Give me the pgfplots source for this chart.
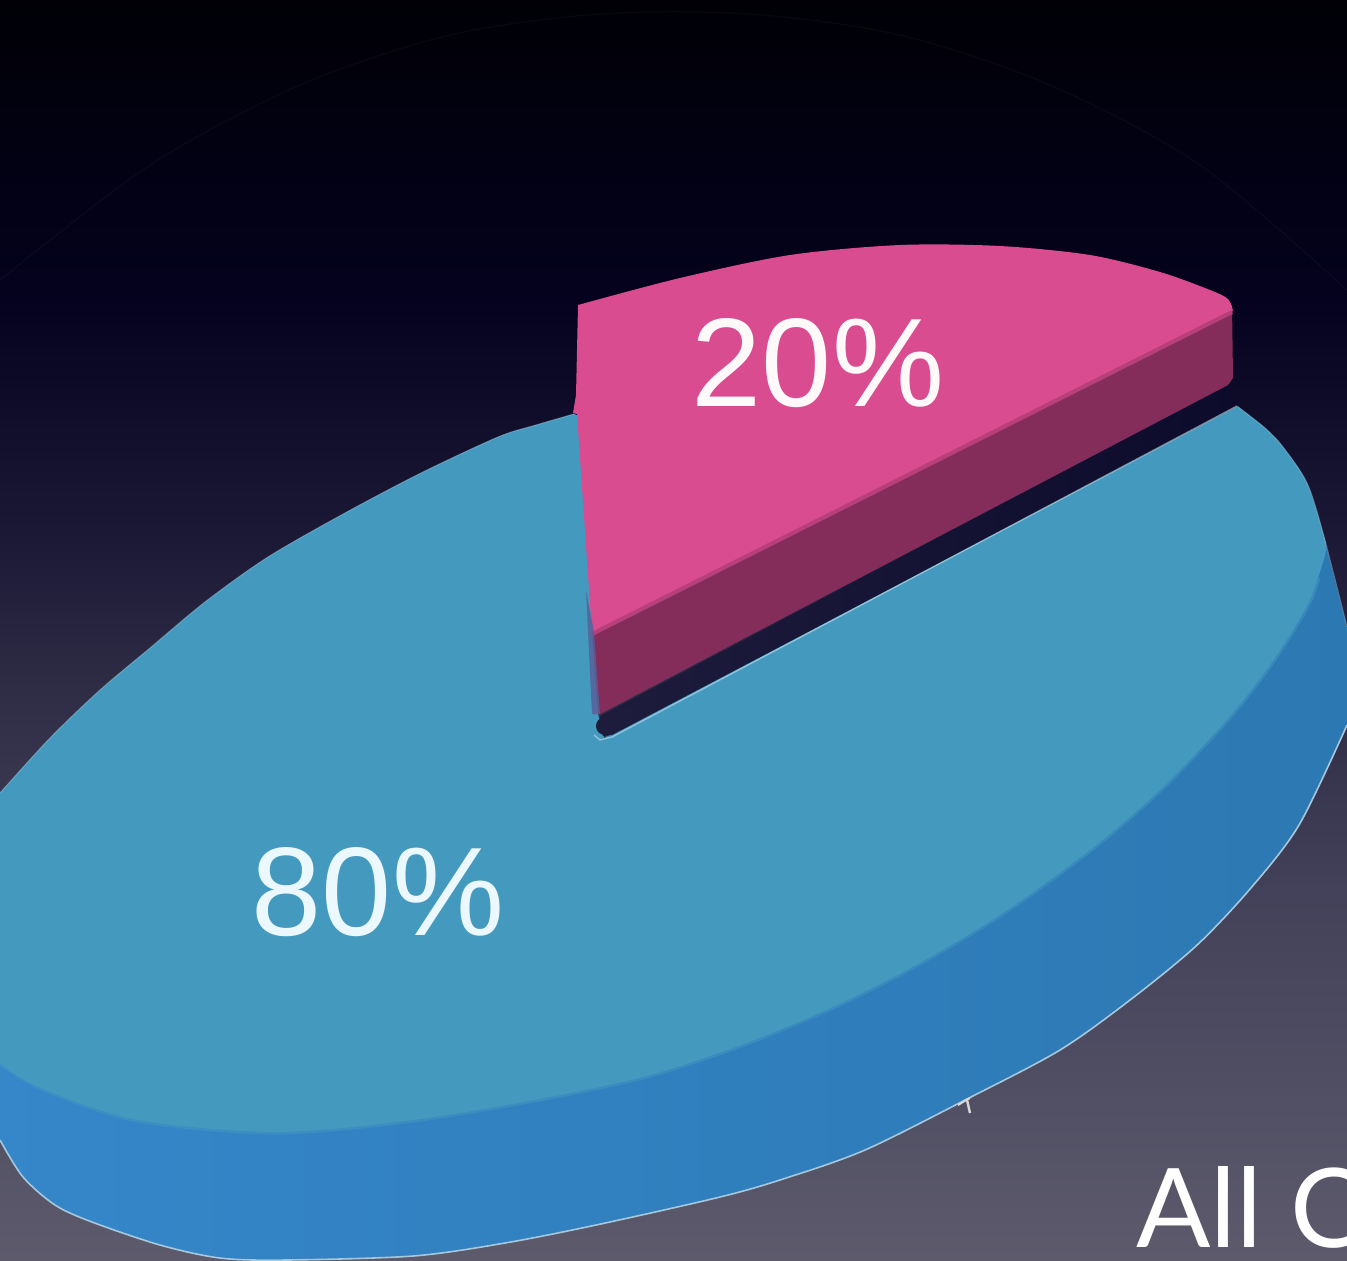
\documentclass[border=0pt]{standalone}
\usepackage{pgfplots}
\pgfplotsset{compat=1.18}
\usepackage{fontspec}
\setmainfont{Liberation Sans}
\newfontfamily\slidefont{Lato}
\definecolor{bgA}{HTML}{000006}
\definecolor{bgB}{HTML}{04021E}
\definecolor{bgC}{HTML}{1C1A37}
\definecolor{bgD}{HTML}{302E46}
\definecolor{bgE}{HTML}{44425A}
\definecolor{bgF}{HTML}{5C5A6B}
\definecolor{blueTop}{HTML}{4499BF}
\definecolor{blueSideL}{HTML}{3587CA}
\definecolor{blueSideR}{HTML}{2C78B2}
\definecolor{pinkTop}{HTML}{D94C8F}
\definecolor{pinkSide}{HTML}{842D5B}
\definecolor{gap}{HTML}{1E1C3C}
\definecolor{gapEnd}{HTML}{0D0B2C}
\definecolor{rim}{HTML}{A5C8DC}
\begin{document}
\begin{tikzpicture}[x=0.5pt,y=0.5pt]
\useasboundingbox (0,0) rectangle (1347,1260);
\clip (0,0) rectangle (1347,1260);
\begin{axis}[
  at={(0,0)}, anchor=south west,
  scale only axis, width=673.5pt, height=630pt,
  xmin=0, xmax=1347, ymin=0, ymax=1260, y dir=reverse,
  hide axis, clip=true]
% backdrop bands
\addplot[draw=none, top color=bgA, bottom color=bgB] coordinates {(0,0)(1347,0)(1347,300)(0,300)} -- cycle;
\addplot[draw=none, top color=bgB, bottom color=bgC] coordinates {(0,299)(1347,299)(1347,550)(0,550)} -- cycle;
\addplot[draw=none, top color=bgC, bottom color=bgD] coordinates {(0,549)(1347,549)(1347,700)(0,700)} -- cycle;
\addplot[draw=none, top color=bgD, bottom color=bgE] coordinates {(0,699)(1347,699)(1347,900)(0,900)} -- cycle;
\addplot[draw=none, top color=bgE, bottom color=bgF] coordinates {(0,899)(1347,899)(1347,1260)(0,1260)} -- cycle;
% faint arc behind the pie
\addplot[draw=white, draw opacity=0.03, line width=0.6pt, smooth] coordinates {(0,280)(150,165)(300,85)(450,35)(600,14)(750,14)(900,35)(1050,85)(1200,165)(1347,290)};
% outer wall of the large slice, closed underneath the top face
\addplot[draw=none, left color=blueSideL, right color=blueSideR, smooth] coordinates {
 (1323,533)(1347,627)(1365,680)(1347,725)(1299,825)(1250,889)(1196,946)(1130,1000)(1060,1050)(969,1098)(865,1150)(783,1179)(720,1197)(596,1225)(505,1243)(413,1256)(285,1260)(220,1258)(160,1245)(92,1222)(55,1205)(23,1177)(0,1140)(-20,1100)}
 -- (axis cs:-20,1000) -- cycle;
% light rim along the lower edge
\addplot[draw=rim, line width=0.8pt, smooth] coordinates {(0,1140)(23,1177)(55,1205)(92,1222)(160,1245)(220,1258)(285,1260)(413,1256)(505,1243)(596,1225)(720,1197)(783,1179)(865,1150)(969,1098)(1060,1050)(1130,1000)(1196,946)(1250,889)(1299,825)(1347,725)};
% top face of the large slice; its left bulge runs past the frame
\addplot[draw=none, fill=blueTop, smooth] coordinates {
 (1237,406)(1265,428)(1283,447)(1307,483)(1323,533)(1326,550)(1318,578)(1310,600)(1293,630)(1265,672)(1225,722)(1160,790)(1090,850)(1000,915)(907,970)(824,1011)(741,1045)(650,1075)(550,1097)(413,1120)(275,1132)(138,1120)(46,1090)(0,1063)(-50,1010)(-60,950)(-40,840)(0,793)(50,738)(100,690)(150,648)(205,602)(268,557)(345,513)(421,473)(498,437)(536,425)(574,414)}
 -- (axis cs:590,420) -- (axis cs:600,640) -- (axis cs:598,714) -- (axis cs:604,738) -- cycle;
% soft transition from face to wall
\addplot[draw=blueTop, draw opacity=0.5, line width=2.5pt, smooth] coordinates {(1318,578)(1310,600)(1293,630)(1265,672)(1225,722)(1160,790)(1090,850)(1000,915)(907,970)(824,1011)(741,1045)(650,1075)(550,1097)(413,1120)(275,1132)(138,1120)(46,1090)(0,1063)};
% faint highlight on the upper edges
\addplot[draw=rim, draw opacity=0.45, line width=0.5pt, smooth] coordinates {(0,793)(50,738)(100,690)(150,648)(205,602)(268,557)(345,513)(421,473)(498,437)(536,425)(574,414)};
\addplot[draw=rim, draw opacity=0.45, line width=0.5pt, smooth] coordinates {(1237,406)(1265,428)(1283,447)(1307,483)(1323,533)(1347,627)};
% dark slot between the slices
\addplot[draw=none, left color=gap, right color=gapEnd] coordinates {(600,716)(1228,385)(1238,406)(612,735)(603,736)} -- cycle;
\addplot[draw=gap, line width=9pt, line cap=round] coordinates {(605,726)(625,716)};
\addplot[draw=white!75!blueTop, draw opacity=0.55, line width=0.7pt] coordinates {(594,735)(600,740)(612,737)(1237,406)};
% small slice: cut face and top
\addplot[draw=none, fill=pinkSide] coordinates {(592,632)(1232,305)(1233,378)(1228,385)(600,714)(598,714)} -- cycle;
\addplot[draw=none, fill=pinkTop, smooth] coordinates {
 (578,305)(680,278)(790,255)(900,245)(1000,246)(1090,255)(1160,272)(1210,290)(1228,299)(1233,311)}
 -- (axis cs:592,633) -- (axis cs:577,414) -- (axis cs:573,413) -- (axis cs:576,395) -- cycle;
% soft edge where the face meets the cut
\addplot[draw=pinkTop!60!pinkSide, line width=2pt] coordinates {(592,634)(1232,312)};
% bluish seam beside the cut face
\addplot[draw=none, fill=pinkSide!45!blueSideL, fill opacity=0.8] coordinates {(586,590)(592,714)(600,714)(594,632)} -- cycle;
% small nick on the rim
\addplot[draw=white!85!black, line width=1pt] coordinates {(958,1105)(966,1100)(970,1098)};
\addplot[draw=white!85!black, line width=1.2pt] coordinates {(967,1100)(970,1113)};
\end{axis}
\node[anchor=base, text=white!90!pink, font=\fontsize{63pt}{63pt}\selectfont] at (818,853) {20\%};
\node[anchor=base, text=white!92!cyan, font=\fontsize{63pt}{63pt}\selectfont] at (378,325) {80\%};
\node[anchor=base west, inner sep=0pt, text=white, font=\slidefont\fontsize{55pt}{55pt}\selectfont] at (1136,13) {All C};
\end{tikzpicture}
\end{document}
